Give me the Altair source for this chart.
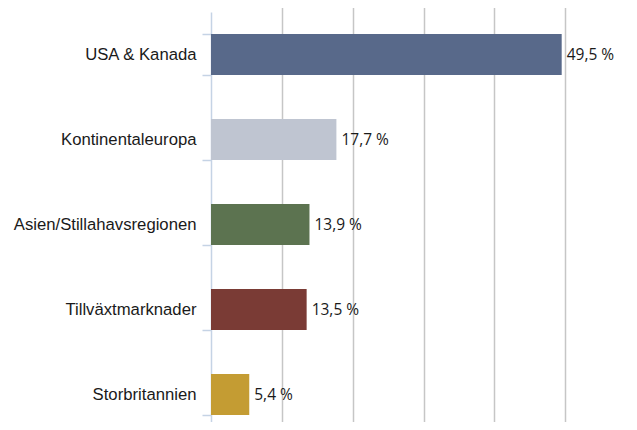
import altair as alt
import pandas as pd

categories = ["USA & Kanada", "Kontinentaleuropa", "Asien/Stillahavsregionen", "Tillväxtmarknader", "Storbritannien"]
values = [49.5, 17.7, 13.9, 13.5, 5.4]
bar_colors = ["#58698a", "#bfc5d1", "#5c7350", "#7a3b35", "#c49c33"]
value_labels = [f"{v:.1f}".replace(".", ",") + " %" for v in values]
grid_values = [10, 20, 30, 40, 50]

df = pd.DataFrame({"region": categories, "value": values, "label": value_labels})

y_scale = alt.Scale(paddingInner=0.52, paddingOuter=0.26, range=[0, 425])

y_enc = alt.Y(
    "region:N",
    sort=categories,
    title=None,
    scale=y_scale,
    axis=alt.Axis(
        tickBand="extent",
        domainColor="#c5d3e5",
        domainWidth=1.5,
        tickColor="#c5d3e5",
        tickWidth=1.5,
        tickSize=9,
        labelPadding=6,
        labelLimit=300,
        labelFont="Liberation Sans",
        labelFontSize=16.7,
        labelColor="#1a1a1a",
        grid=False,
    ),
)

x_enc = alt.X(
    "value:Q",
    title=None,
    scale=alt.Scale(domain=[0, 59], nice=False, zero=True),
    axis=alt.Axis(
        values=grid_values,
        labels=False,
        ticks=False,
        domain=False,
        grid=True,
        gridColor="#c6c6c6",
        gridWidth=1.5,
    ),
)

bars = alt.Chart(df).mark_bar().encode(
    x=x_enc,
    y=y_enc,
    color=alt.Color("region:N", scale=alt.Scale(domain=categories, range=bar_colors), legend=None),
)

text = alt.Chart(df).mark_text(
    align="left", baseline="middle", dx=5, font="Open Sans", fontSize=15.5, color="#1a1a1a"
).encode(
    x=alt.X("value:Q"),
    y=alt.Y("region:N", sort=categories),
    text="label:N",
)

chart = (
    alt.layer(bars, text)
    .properties(
        width=418,
        height=410,
        autosize=alt.AutoSizeParams(type="none"),
        padding={"left": 203, "top": 4, "right": 0, "bottom": 0},
        background="white",
    )
    .configure_view(stroke=None)
)

chart.save("out.html", embed_options={"renderer": "svg", "actions": False})
